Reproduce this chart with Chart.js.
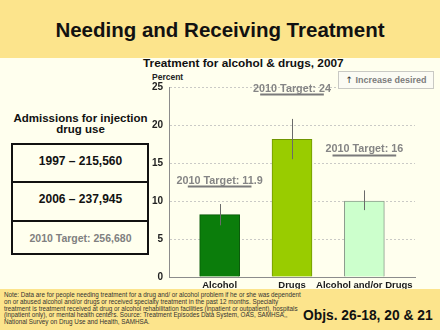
<!DOCTYPE html>
<html>
<head>
<meta charset="utf-8">
<script src="https://cdn.jsdelivr.net/npm/chart.js@4.4.1/dist/chart.umd.min.js"></script>
<style>
  html, body { margin: 0; padding: 0; }
  body { width: 440px; height: 330px; overflow: hidden; font-family: "Liberation Sans", Arial, sans-serif; }
  .slide { position: relative; width: 440px; height: 330px; background: #FFFFEE; }
  .band { position: absolute; left: 0; width: 440px; background: #FCE48C; }
  .t { position: absolute; white-space: nowrap; line-height: 1; font-weight: bold; color: #111; }
  #chartWrap { position: absolute; left: 140px; top: 58px; width: 300px; height: 232px; }
  .box { position: absolute; left: 11px; top: 143px; width: 138px; height: 112px; box-sizing: border-box; border: 2px solid #111; }
  .rule { position: absolute; left: 0; width: 134px; height: 2px; background: #111; }
  .inc { position: absolute; left: 338px; top: 71px; width: 96px; height: 18px; box-sizing: border-box;
         border: 1px solid #c9c9c4; background: #fbfbf4; color: #7c7c7c; font-weight: bold; font-size: 9px;
         line-height: 16px; text-align: center; white-space: nowrap; }
  .inc span { color: #333; font-weight: normal; font-family: "DejaVu Sans", sans-serif; font-size: 9px; }
  .note { position: absolute; left: 4px; top: 292.4px; font-size: 6.3px; line-height: 6.6px; color: #333; white-space: nowrap; }
</style>
</head>
<body>
<div class="slide">
  <div class="band" style="top:0;height:58px"></div>
  <div class="t" style="left:0;width:440px;text-align:center;top:20px;font-size:20.5px">Needing and Receiving Treatment</div>

  <!-- left panel: admissions table -->
  <div class="t" style="left:12px;width:137px;text-align:center;top:112.6px;font-size:11.5px">Admissions for injection</div>
  <div class="t" style="left:12px;width:137px;text-align:center;top:124.3px;font-size:11.5px">drug use</div>
  <div class="box">
    <div class="rule" style="top:36px"></div>
    <div class="rule" style="top:75px"></div>
  </div>
  <div class="t" style="left:12px;width:137px;text-align:center;top:154.9px;font-size:12px">1997 – 215,560</div>
  <div class="t" style="left:12px;width:137px;text-align:center;top:193.2px;font-size:12px">2006 – 237,945</div>
  <div class="t" style="left:12px;width:137px;text-align:center;top:232.6px;font-size:10.5px;color:#808080">2010 Target: 256,680</div>

  <!-- chart heading -->
  <div class="t" style="left:143px;top:58px;font-size:11.8px">Treatment for alcohol &amp; drugs, 2007</div>
  <div class="t" style="left:152px;top:72.8px;font-size:8.5px;color:#222">Percent</div>

  <div id="chartWrap"><canvas id="chart" width="300" height="232" style="width:300px;height:232px"></canvas></div>
  <div class="inc"><span>↑</span> Increase desired</div>

  <div class="band" style="top:289px;height:41px"></div>
  <div class="note">Note: Data are for people needing treatment for a drug and/ or alcohol problem if he or she was dependent<br>on or abused alcohol and/or drugs or received specialty treatment in the past 12 months. Specialty<br>treatment is treatment received at drug or alcohol rehabilitation facilities (inpatient or outpatient), hospitals<br>(inpatient only), or mental health centers. Source: Treatment Episodes Data System, OAS, SAMHSA,,<br>National Survey on Drug Use and Health, SAMHSA.</div>
  <div class="t" style="left:303px;top:309px;font-size:13.8px">Objs. 26-18, 20 &amp; 21</div>
</div>

<script>
// --- Data ---
const categories = ['Alcohol', 'Drugs', 'Alcohol and/or Drugs'];
const percents = [8.2, 18.1, 10.0];
const errLow = [6.8, 15.5, 8.8];
const errHigh = [9.6, 20.8, 11.4];
const targets = [11.9, 24, 16];
const targetLabels = ['2010 Target: 11.9', '2010 Target: 24', '2010 Target: 16'];
const yTicks = [0, 5, 10, 15, 20, 25];

const barColors = ['#0B7D0B', '#99CC00', '#CCFFCC'];
const barBorders = ['#065806', '#6F9500', '#8C9C8C'];

Chart.defaults.font.family = '"Liberation Sans", Arial, sans-serif';

// confidence interval whiskers
const errorBars = {
    id: 'errorBars',
    afterDatasetsDraw(chart) {
        const { ctx, scales: { x, y } } = chart;
        ctx.save();
        ctx.strokeStyle = '#6a6a6a';
        ctx.lineWidth = 1;
        categories.forEach((c, i) => {
            const px = Math.round(x.getPixelForValue(i + 1)) + 0.5;
            ctx.beginPath();
            ctx.moveTo(px, y.getPixelForValue(errLow[i]));
            ctx.lineTo(px, y.getPixelForValue(errHigh[i]));
            ctx.stroke();
        });
        ctx.restore();
    }
};

// 2010 target markers: underline at the target value with its label above
const targetMarks = {
    id: 'targetMarks',
    afterDraw(chart) {
        const { ctx, scales: { x, y } } = chart;
        ctx.save();
        ctx.font = 'bold 10.8px "Liberation Sans", Arial, sans-serif';
        ctx.textAlign = 'center';
        ctx.textBaseline = 'alphabetic';
        targets.forEach((t, i) => {
            const ty = y.getPixelForValue(t);
            const x0 = x.getPixelForValue(i + 1 - 0.44);
            const x1 = x.getPixelForValue(i + 1 + 0.44);
            ctx.strokeStyle = '#7a7a7a';
            ctx.lineWidth = 2;
            ctx.beginPath();
            ctx.moveTo(x0, ty);
            ctx.lineTo(x1, ty);
            ctx.stroke();
            ctx.fillStyle = '#858585';
            ctx.fillText(targetLabels[i], x.getPixelForValue(i + 1), ty - 3);
        });
        ctx.restore();
    }
};

new Chart(document.getElementById('chart'), {
    type: 'bar',
    data: {
        datasets: [{
            data: percents.map((v, i) => ({ x: i + 1, y: v })),
            backgroundColor: barColors,
            borderColor: barBorders,
            borderWidth: 1,
            barThickness: 40
        }]
    },
    options: {
        responsive: false,
        animation: false,
        devicePixelRatio: 1,
        layout: { padding: { left: 0, top: 29, right: 25, bottom: 0 } },
        plugins: { legend: { display: false }, tooltip: { enabled: false } },
        scales: {
            x: {
                type: 'linear',
                min: 0.3,
                max: 3.7,
                offset: false,
                afterBuildTicks: s => { s.ticks = categories.map((c, i) => ({ value: i + 1 })); },
                afterFit: s => { s.height = 13; },
                grid: { display: false, drawTicks: false, offset: false },
                border: { color: '#8c8c8c' },
                ticks: {
                    callback: v => categories[v - 1],
                    padding: 3,
                    autoSkip: false,
                    maxRotation: 0,
                    color: '#1a1a1a',
                    font: { size: 9.5, weight: 'bold' }
                }
            },
            y: {
                min: 0,
                max: 25,
                afterBuildTicks: s => { s.ticks = yTicks.map(v => ({ value: v })); },
                afterFit: s => { s.width = 29; },
                grid: { color: '#cacac6', drawTicks: false },
                border: { color: '#8c8c8c', dash: [2, 2] },
                ticks: {
                    padding: 6,
                    color: '#222',
                    font: { size: 10, weight: 'bold' }
                }
            }
        }
    },
    plugins: [errorBars, targetMarks]
});
</script>
</body>
</html>
